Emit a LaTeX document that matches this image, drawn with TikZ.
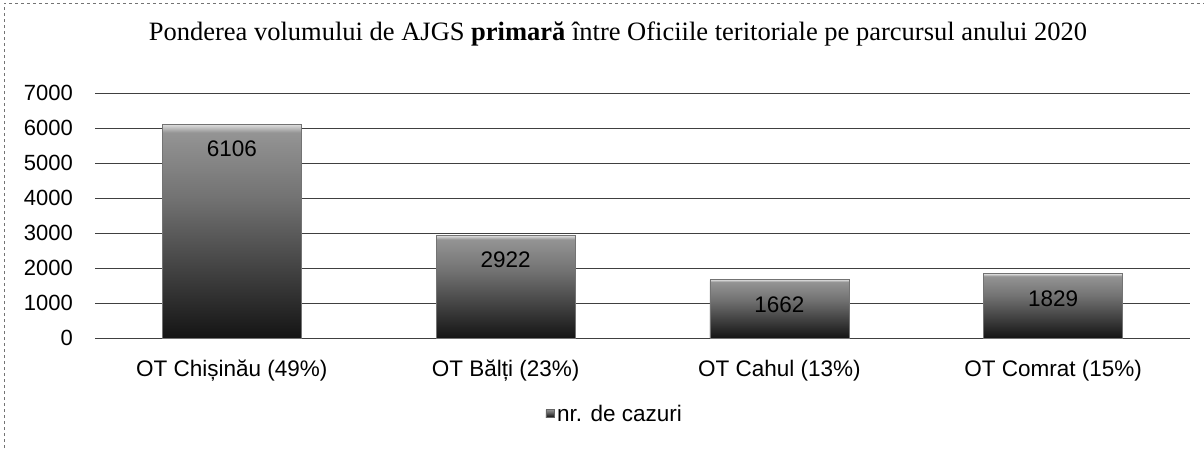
\documentclass[tikz,border=0pt]{standalone}
\usepackage{fontspec}
\setmainfont{Liberation Sans}
\newfontfamily\titlefont{Liberation Serif}
\usetikzlibrary{positioning}

\pgfdeclareverticalshading{barshade}{100bp}{color(0bp)=(black!92); color(25bp)=(black!92); color(58bp)=(black!55); color(73bp)=(black!42); color(75bp)=(black!12); color(100bp)=(black!12)}

\tikzset{
	gridline/.style={black!75, line width=0.8pt},
	barbox/.style={shading=barshade, draw=black!55, line width=0.5pt, minimum width=139pt, inner sep=0pt, anchor=south},
	ticklabel/.style={anchor=east, inner sep=0pt, font=\fontsize{22}{26}\selectfont},
	catlabel/.style={inner sep=0pt, font=\fontsize{22.5}{26}\selectfont},
	vallabel/.style={inner sep=0pt, font=\fontsize{22.5}{26}\selectfont},
	legendmark/.style={shading=barshade, draw=black!60, minimum size=8pt, inner sep=0pt}
}

\begin{document}
\begin{tikzpicture}[x=1pt,y=-1pt]
	\useasboundingbox (0,0) rectangle (1204,448);
	\draw[black!55, dashed, line width=0.8pt] (4,448) -- (4,3) -- (1204,3);

	\node[font=\titlefont\fontsize{26.5}{30}\selectfont] (title) at (618,34) {Ponderea volumului de AJGS \textbf{primară} între Oficiile teritoriale pe parcursul anului 2020};

	% grid and y axis
	\foreach \v [count=\i from 0] in {0,1000,...,7000} {
		\draw[gridline] (95,338-35*\i) -- (1190,338-35*\i);
		\node[ticklabel] (tick\i) at (73,338-35*\i) {\v};
	}

	% bars
	\foreach \name/\val/\pc [count=\k] in {Chișinău/6106/49, Bălți/2922/23, Cahul/1662/13, Comrat/1829/15} {
		\node[barbox, minimum height=\val*0.035pt] (bar\k) at (95+273.75*\k-136.875,338) {};
		\node[vallabel] (val\k) at ([yshift=-25pt]bar\k.north) {\val};
		\node[catlabel] (cat\k) at (95+273.75*\k-136.875,371) {OT \name\ (\pc\%)};
	}

	% legend
	\node[catlabel, anchor=west] (legtext) at (557,413) {nr. de cazuri};
	\node[legendmark, left=3pt of legtext] (legmark) {};
\end{tikzpicture}
\end{document}
